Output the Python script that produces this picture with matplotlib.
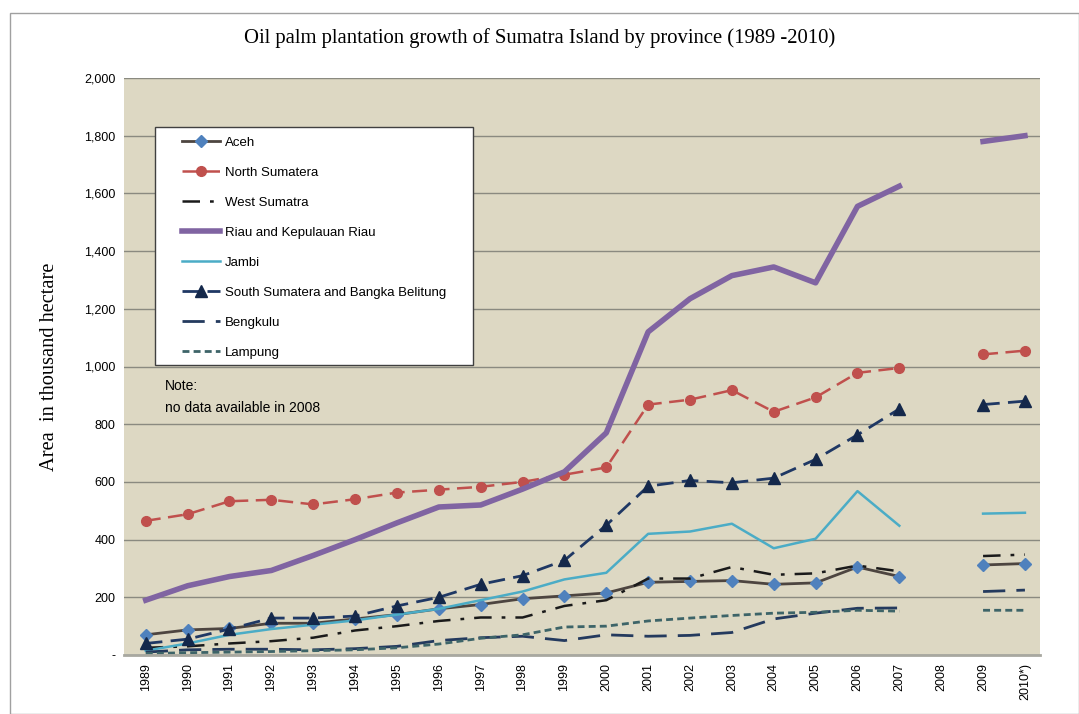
import numpy as np
import matplotlib.pyplot as plt
from matplotlib.patches import Rectangle

years = ['1989', '1990', '1991', '1992', '1993', '1994', '1995', '1996', '1997', '1998', '1999',
         '2000', '2001', '2002', '2003', '2004', '2005', '2006', '2007', '2008', '2009', '2010*)']
nan = np.nan

aceh = [70, 87, 92, 110, 110, 125, 140, 160, 175, 195, 205,
        215, 252, 255, 258, 245, 250, 305, 272, nan, 312, 317]
north_sumatera = [465, 488, 533, 538, 522, 540, 563, 573, 583, 600, 625,
                  650, 868, 885, 918, 843, 893, 978, 995, nan, 1042, 1055]
west_sumatra = [25, 30, 40, 48, 60, 85, 100, 118, 130, 130, 170,
                190, 265, 265, 305, 278, 283, 310, 290, nan, 343, 348]
riau = [190, 240, 272, 293, 345, 400, 458, 513, 520, 575, 635,
        770, 1120, 1235, 1315, 1345, 1290, 1555, 1625, nan, 1780, 1800]
jambi = [15, 40, 70, 90, 105, 120, 140, 160, 190, 220, 262,
         285, 420, 428, 455, 370, 403, 568, 448, nan, 490, 493]
south_sumatera = [40, 55, 90, 128, 128, 135, 170, 200, 245, 275, 328,
                  450, 585, 605, 597, 613, 678, 763, 853, nan, 868, 880]
bengkulu = [10, 18, 20, 20, 18, 22, 30, 50, 60, 65, 50,
            70, 65, 68, 78, 125, 145, 162, 163, nan, 220, 225]
lampung = [5, 8, 10, 12, 15, 18, 25, 38, 58, 70, 97,
           100, 118, 128, 137, 145, 148, 155, 152, nan, 155, 155]

x = np.arange(len(years))

fig = plt.figure(figsize=(10.79, 7.14), dpi=100)
fig.patches.append(Rectangle((10/1079, 0), 1 - 10/1079, 1 - 13/714, transform=fig.transFigure,
                             fill=False, edgecolor='#a0a0a0', lw=1))
ax = fig.add_axes([124/1079, 1 - 655/714, (1040 - 124)/1079, (655 - 78)/714])
ax.set_facecolor('#ddd8c3')

ax.plot(x, aceh, '-', color='#4d4540', lw=2, marker='D', ms=6, mfc='#4f81bd', mec='#4f81bd', label='Aceh')
ax.plot(x, north_sumatera, '--', color='#c0504d', lw=1.8, dashes=(6, 3), marker='o', ms=7,
        mfc='#c0504d', mec='#c0504d', label='North Sumatera')
ax.plot(x, west_sumatra, '-.', color='#1a1a1a', lw=1.8, dashes=(7, 4, 1.5, 4), label='West Sumatra')
ax.plot(x, riau, '-', color='#8064a2', lw=4, label='Riau and Kepulauan Riau')
ax.plot(x, jambi, '-', color='#4bacc6', lw=1.8, label='Jambi')
ax.plot(x, south_sumatera, '--', color='#1f3864', lw=2, dashes=(6, 3), marker='^', ms=9,
        mfc='#14284b', mec='#14284b', label='South Sumatera and Bangka Belitung')
ax.plot(x, bengkulu, '--', color='#243a5e', lw=2, dashes=(8, 4), label='Bengkulu')
ax.plot(x, lampung, '--', color='#3d6468', lw=2, dashes=(2.5, 1.5), label='Lampung')

ax.set_xlim(-0.52, 21.36)
ax.set_ylim(0, 2000)
ax.set_yticks(np.arange(0, 2001, 200))
ax.set_yticklabels(['-'] + [f'{v:,}' for v in range(200, 2001, 200)], fontsize=9,
                   family='Liberation Sans')
ax.set_xticks(x)
ax.set_xticklabels(years, rotation=90, fontsize=9, family='Liberation Sans')
ax.tick_params(length=0, pad=6)
ax.grid(axis='y', color='#8a8a80', lw=1)
ax.set_axisbelow(True)
for s in ['left', 'right', 'top']:
    ax.spines[s].set_visible(False)
ax.spines['bottom'].set_color('#a8a8a0')
ax.spines['bottom'].set_linewidth(2)

ax.set_ylabel('Area  in thousand hectare', family='Liberation Serif', fontsize=14.7, labelpad=18)
fig.text(0.5, 1 - 38/714, 'Oil palm plantation growth of Sumatra Island by province (1989 -2010)',
         ha='center', va='center', family='Liberation Serif', fontsize=14.9)

# legend frame drawn by hand (wider left padding than matplotlib's borderpad allows)
ax.add_patch(Rectangle((0.0338, 0.5026), 0.3472, 0.4124, transform=ax.transAxes,
                       facecolor='white', edgecolor='#404040', lw=1, zorder=4))
leg = ax.legend(loc='upper left', bbox_to_anchor=(0.063, 0.898), borderaxespad=0, borderpad=0,
                frameon=False, labelspacing=1.34, handlelength=2.9, handletextpad=0.38,
                prop={'family': 'Liberation Sans', 'size': 9.5})
leg.set_zorder(5)

ax.text(0.045, 0.479, 'Note:\nno data available in 2008', transform=ax.transAxes,
        fontsize=10, family='Liberation Sans', va='top', linespacing=1.75)

fig.savefig('out.png', dpi=100)
